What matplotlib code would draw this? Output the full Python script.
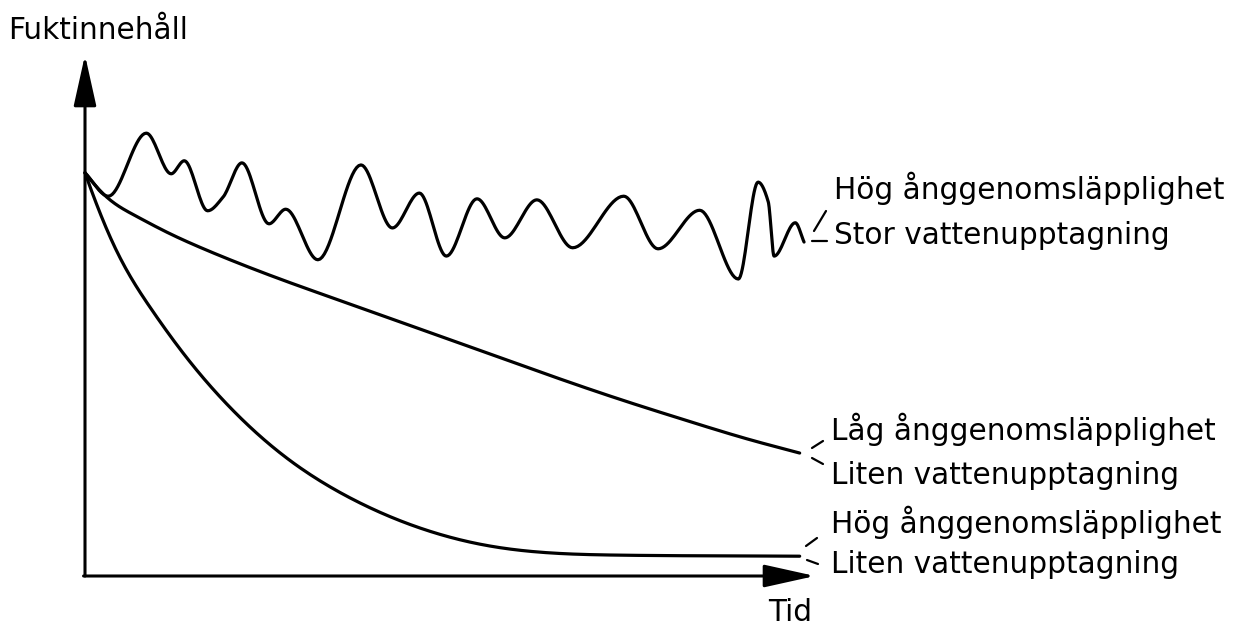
import numpy as np
import matplotlib
matplotlib.use('Agg')
import matplotlib.pyplot as plt
from matplotlib.lines import Line2D

W, H = 1241, 627
DPI = 100

# ---- data (schematic units: time 0-100, moisture content 0-100) ----
t_high_large = [0, 3.2, 8.4, 11.8, 13.6, 16.8, 18.9, 21.5, 25.2, 27.5, 31.9, 37.8, 42.1,
                45.8, 49.5, 53.7, 57.5, 61.9, 66.8, 73.8, 78.5, 84.2, 89.5, 92.2, 93.6,
                94.4, 97.3, 98.5]
m_high_large = [77.4, 72.9, 85.0, 77.2, 79.7, 70.1, 72.7, 79.3, 67.6, 70.4, 60.7, 78.9, 66.8,
                73.5, 61.4, 72.4, 64.9, 72.2, 63.0, 72.9, 62.8, 70.2, 57.0, 75.6, 71.8,
                61.4, 67.8, 64.1]

t_low_small = [0, 3.0, 6.7, 11.2, 15.9, 20.4, 27.3, 35.9, 45.9, 55.1,
               64.1, 73.3, 82.5, 91.5, 97.9]
m_low_small = [77.4, 72.7, 69.3, 66.0, 63.0, 60.4, 56.7, 52.4, 47.4, 42.8,
               38.3, 33.9, 29.8, 26.0, 23.6]

t_high_small = [0, 4.4, 9.0, 13.6, 20.4, 27.3, 36.3, 45.5, 54.5, 64.1, 73.3, 97.9]
m_high_small = [77.4, 62.2, 51.4, 42.5, 31.6, 23.0, 15.0, 9.4, 6.0, 4.4, 4.0, 3.8]

y_label = "Fuktinnehåll"
x_label = "Tid"
labels_high_large = ["Hög ånggenomsläpplighet", "Stor vattenupptagning"]
labels_low_small = ["Låg ånggenomsläpplighet", "Liten vattenupptagning"]
labels_high_small = ["Hög ånggenomsläpplighet", "Liten vattenupptagning"]


def hermite(x, y, d, n=20):
    xs, ys = [], []
    h = np.diff(x)
    s = np.linspace(0, 1, n, endpoint=False)
    for k in range(len(x) - 1):
        h00 = 2 * s ** 3 - 3 * s ** 2 + 1
        h10 = s ** 3 - 2 * s ** 2 + s
        h01 = -2 * s ** 3 + 3 * s ** 2
        h11 = s ** 3 - s ** 2
        xs.append(x[k] + s * h[k])
        ys.append(h00 * y[k] + h10 * h[k] * d[k] + h01 * y[k + 1] + h11 * h[k] * d[k + 1])
    xs.append([x[-1]])
    ys.append([y[-1]])
    return np.concatenate(xs), np.concatenate(ys)


def pchip_curve(x, y):
    """Shape-preserving cubic through the points (for the wavy line)."""
    x = np.asarray(x, float)
    y = np.asarray(y, float)
    h = np.diff(x)
    delta = np.diff(y) / h
    d = np.zeros_like(y)
    for k in range(1, len(x) - 1):
        if delta[k - 1] * delta[k] <= 0:
            d[k] = 0.0
        else:
            w1 = 2 * h[k] + h[k - 1]
            w2 = h[k] + 2 * h[k - 1]
            d[k] = (w1 + w2) / (w1 / delta[k - 1] + w2 / delta[k])
    d[0] = delta[0]
    d[-1] = delta[-1]
    return hermite(x, y, d)


def spline_curve(x, y):
    """C2 cubic spline through the points (end slopes from the end chords)."""
    x = np.asarray(x, float)
    y = np.asarray(y, float)
    n = len(x)
    h = np.diff(x)
    delta = np.diff(y) / h
    A = np.zeros((n, n))
    b = np.zeros(n)
    A[0, 0] = 1.0
    b[0] = delta[0] * 1.15
    A[-1, -1] = 1.0
    b[-1] = delta[-1]
    for k in range(1, n - 1):
        A[k, k - 1] = h[k]
        A[k, k] = 2 * (h[k - 1] + h[k])
        A[k, k + 1] = h[k - 1]
        b[k] = 3 * (h[k] * delta[k - 1] + h[k - 1] * delta[k])
    d = np.linalg.solve(A, b)
    return hermite(x, y, d)


fig = plt.figure(figsize=(W / DPI, H / DPI), dpi=DPI)
fig.patch.set_facecolor('white')
ax = fig.add_axes([85 / W, (H - 576) / H, 730 / W, 521 / H])
ax.set_xlim(0, 100)
ax.set_ylim(0, 100)
ax.axis('off')

LW = 2.3
curves = [pchip_curve(t_high_large, m_high_large),
          spline_curve(t_low_small, m_low_small),
          spline_curve(t_high_small, m_high_small)]
for xs, ys in curves:
    ax.plot(xs, ys, color='black', lw=LW, solid_capstyle='round', solid_joinstyle='round',
            clip_on=False)

arrow = dict(arrowstyle='-|>,head_length=0.45,head_width=0.1', mutation_scale=70,
             color='black', lw=2.2, shrinkA=0, shrinkB=0)
ax.annotate('', xy=(0, 100), xytext=(0, 0), arrowprops=arrow, annotation_clip=False)
ax.annotate('', xy=(100, 0), xytext=(-0.2, 0), arrowprops=arrow, annotation_clip=False)


def fx(x):
    return x / W


def fy(y):
    return 1 - y / H


FS = 21.3
fig.text(fx(8), fy(39), y_label, fontsize=FS, ha='left', va='baseline')
fig.text(fx(768), fy(621), x_label, fontsize=FS, ha='left', va='baseline')

fig.text(fx(834), fy(199), labels_high_large[0], fontsize=FS, ha='left', va='baseline')
fig.text(fx(834), fy(244), labels_high_large[1], fontsize=FS, ha='left', va='baseline')
fig.text(fx(831), fy(440), labels_low_small[0], fontsize=FS, ha='left', va='baseline')
fig.text(fx(831), fy(484), labels_low_small[1], fontsize=FS, ha='left', va='baseline')
fig.text(fx(831), fy(533), labels_high_small[0], fontsize=FS, ha='left', va='baseline')
fig.text(fx(831), fy(573), labels_high_small[1], fontsize=FS, ha='left', va='baseline')

ticks = [((814, 231), (826, 211)), ((812, 241), (827, 241)),
         ((812, 448), (823, 441)), ((812, 458), (823, 464)),
         ((806, 546), (817, 538)), ((807, 560), (818, 564))]
for (x1, y1), (x2, y2) in ticks:
    fig.add_artist(Line2D([fx(x1), fx(x2)], [fy(y1), fy(y2)], transform=fig.transFigure,
                          color='black', lw=1.6, solid_capstyle='round'))

fig.savefig('out.png', dpi=DPI, facecolor='white')
